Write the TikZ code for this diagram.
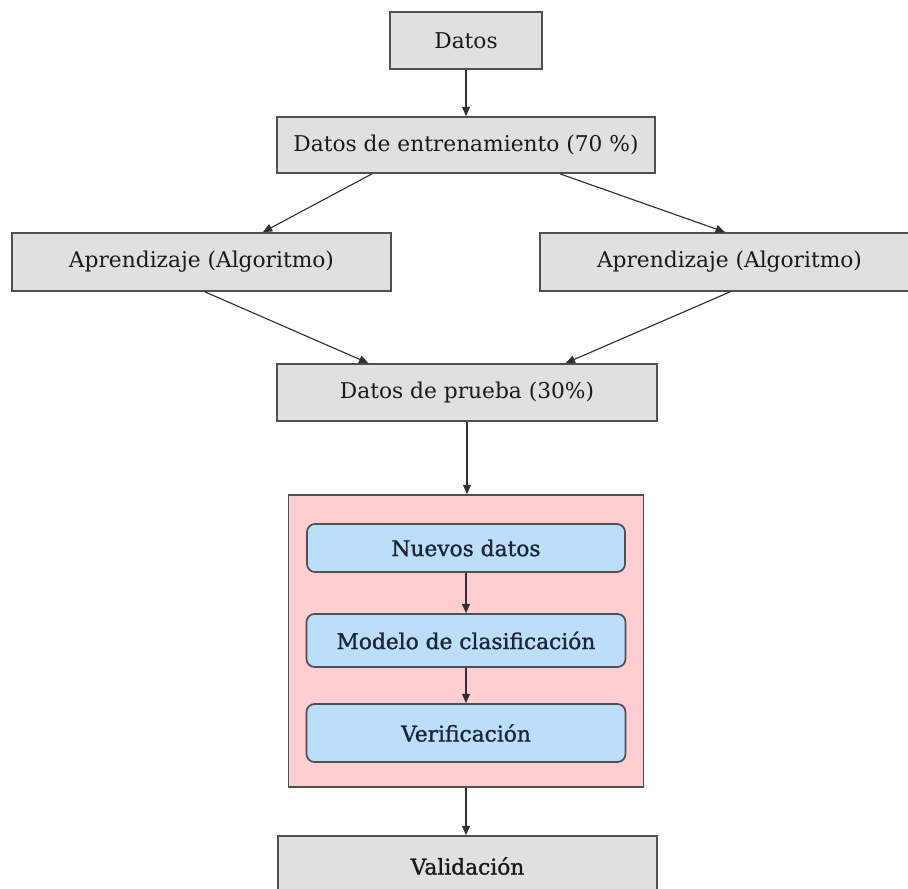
\documentclass[tikz,border=0pt]{standalone}
\usepackage{fontspec}
\setmainfont{DejaVu Serif}
\newfontfamily\boldish[FakeBold=1.2]{DejaVu Serif}
\usetikzlibrary{arrows.meta}
\definecolor{boxgray}{HTML}{E0E0E0}
\definecolor{edgegray}{HTML}{505050}
\definecolor{pinkbg}{HTML}{FFCDD2}
\definecolor{bluebox}{HTML}{BBDEFB}
\definecolor{navytext}{HTML}{1C2536}
\definecolor{arrowgray}{HTML}{303030}
\tikzset{
  graybox/.style={draw=edgegray, line width=1.3pt, fill=boxgray, rectangle, inner sep=0pt,
    font=\fontsize{16.3}{19}\selectfont, text=black!90},
  bluestep/.style={draw=edgegray, line width=1.3pt, fill=bluebox, rectangle, rounded corners=6pt,
    inner sep=0pt, font=\boldish\fontsize{16.3}{19}\selectfont, text=navytext},
  pinkframe/.style={draw=edgegray, line width=1.3pt, fill=pinkbg, rectangle, inner sep=0pt},
  arr/.style={draw=arrowgray, line width=0.85pt, -{Triangle[length=7pt,width=6pt]}}
}
\begin{document}
\begin{tikzpicture}[x=0.75pt, y=-0.75pt]
\useasboundingbox (0,0) rectangle (908,889);
\clip (0,0) rectangle (908,889);
\fill[white] (0,0) rectangle (908,889);

\node[graybox, minimum width=152*0.75pt, minimum height=57*0.75pt] (datos) at (466,40.5) {Datos};
\node[graybox, minimum width=378*0.75pt, minimum height=56*0.75pt] (entren) at (466,145) {Datos de entrenamiento (70 \%)};
\node[graybox, minimum width=379*0.75pt, minimum height=58*0.75pt] (aprl) at (201.5,262) {Aprendizaje (Algoritmo)};
\node[graybox, minimum width=379*0.75pt, minimum height=58*0.75pt] (aprr) at (729.5,262) {Aprendizaje (Algoritmo)};
\node[graybox, minimum width=380*0.75pt, minimum height=57*0.75pt] (prueba) at (467,392.5) {Datos de prueba (30\%)};

\node[pinkframe, minimum width=355*0.75pt, minimum height=292*0.75pt] (pink) at (466,641) {};
\node[bluestep, minimum width=318*0.75pt, minimum height=48*0.75pt] (nuevos) at (466,548) {Nuevos datos};
\node[bluestep, minimum width=319*0.75pt, minimum height=53*0.75pt] (modelo) at (466,640.5) {Modelo de clasificación};
\node[bluestep, minimum width=319*0.75pt, minimum height=58*0.75pt] (verif) at (466,733) {Verificación};

\node[graybox, font=\boldish\fontsize{16.3}{19}\selectfont, minimum width=379*0.75pt, minimum height=60*0.75pt] (valid) at (467.5,866) {Validación};

\draw[arr] (datos.south) -- (datos.south |- entren.north);
\draw[arr] ([xshift=-70.5pt]entren.south) -- ([xshift=46pt]aprl.north);
\draw[arr] ([xshift=70.5pt]entren.south) -- ([xshift=-3.4pt]aprr.north);
\draw[arr] ([xshift=2.6pt]aprl.south) -- ([xshift=-74pt]prueba.south |- prueba.north);
\draw[arr] ([xshift=0.4pt]aprr.south) -- ([xshift=74pt]prueba.south |- prueba.north);
\draw[arr] (prueba.south) -- (prueba.south |- pink.north);
\draw[arr] (nuevos.south) -- (modelo.north);
\draw[arr] (modelo.south) -- (verif.north);
\draw[arr] (pink.south) -- (pink.south |- valid.north);
\end{tikzpicture}
\end{document}
